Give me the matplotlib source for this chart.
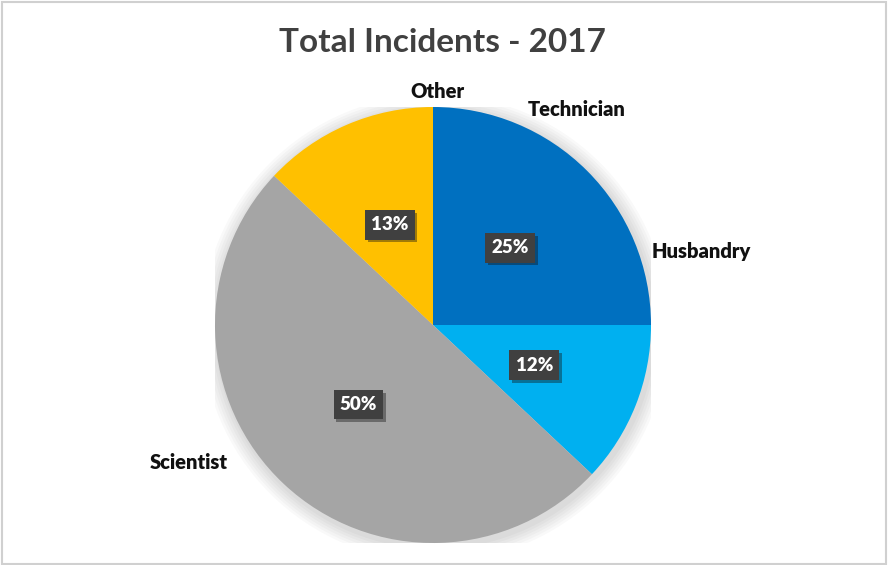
import matplotlib.pyplot as plt
import matplotlib.patheffects as pe
from matplotlib.patches import Rectangle

categories = ["Technician", "Husbandry", "Scientist", "Other"]
values = [25, 12, 50, 13]
colors = ["#0070C0", "#00B0F0", "#A5A5A5", "#FFC000"]
# label positions (axes units, pie radius = 1)
label_pos = [(0.66, 0.99), (1.23, 0.335), (-1.12, -0.63), (0.02, 1.07)]

plt.rcParams["font.family"] = ["Lato", "DejaVu Sans"]

fig = plt.figure(figsize=(8.88, 5.65), dpi=100)
fig.patches.append(Rectangle((0.002, 0.002), 0.996, 0.994, transform=fig.transFigure,
                             fill=False, edgecolor="#D0D0D0", linewidth=1.5))

cx, cy, r = 433, 325, 218
ax = fig.add_axes([(cx - r) / 888, (565 - cy - r) / 565, 2 * r / 888, 2 * r / 565])

# soft shadow behind the pie
for i in range(6):
    ax.add_patch(plt.Circle((0.01, -0.015), 1 + 0.012 * (i + 1), color="black",
                            alpha=0.022, zorder=0, lw=0))

wedges, texts, autotexts = ax.pie(
    values, colors=colors, startangle=90, counterclock=False, radius=1,
    labels=categories, autopct=lambda p: f"{p:.0f}%", pctdistance=0.5,
    wedgeprops=dict(linewidth=0), frame=True,
    textprops=dict(fontsize=14.5, fontweight="heavy"))
ax.set_xlim(-1, 1)
ax.set_ylim(-1, 1)
ax.axis("off")

for t, pos in zip(texts, label_pos):
    t.set_position(pos)
    t.set_ha("center")
    t.set_va("center")
    t.set_color("#111111")

for t in autotexts:
    t.set_color("white")
    t.set_fontsize(13.5)
    t.set_bbox(dict(boxstyle="square,pad=0.33", facecolor="#404040", edgecolor="none"))
    t.get_bbox_patch().set_path_effects([pe.SimplePatchShadow(offset=(2, -2), alpha=0.4),
                                         pe.Normal()])

fig.text(442 / 888, 1 - 42 / 565, "Total Incidents - 2017", ha="center", va="center",
         fontsize=24, fontweight="bold", color="#404040")

fig.savefig("out.png", dpi=100)
